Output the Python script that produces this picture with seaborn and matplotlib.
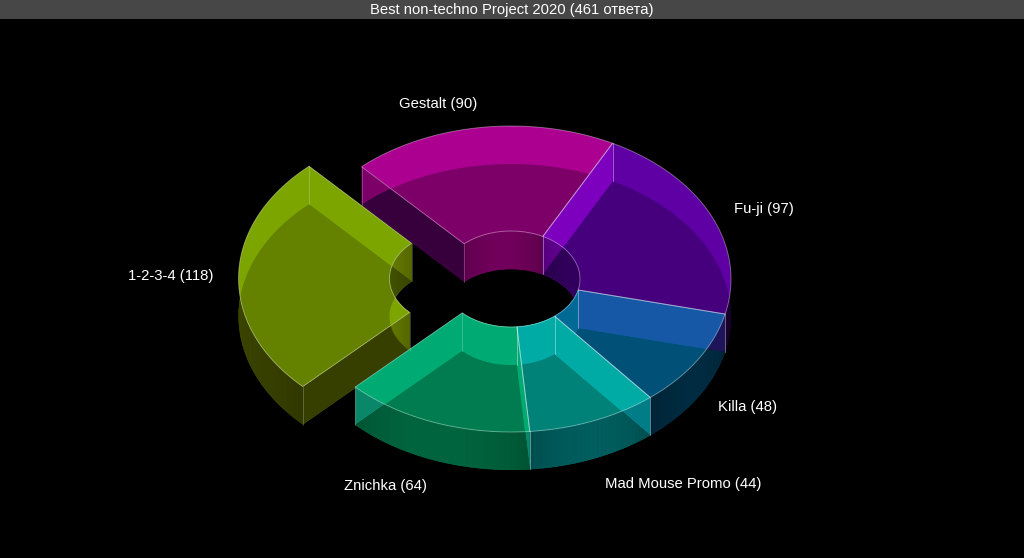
import numpy as np
import seaborn as sns
import matplotlib.pyplot as plt
from matplotlib.colors import to_rgb

# counter-clockwise from the Gestalt/Fu-ji joint
names = ['Gestalt', '1-2-3-4', 'Znichka', 'Mad Mouse Promo', 'Killa', 'Fu-ji']
votes = [90, 118, 64, 44, 48, 97]

title = 'Best non-techno Project 2020 (461 ответа)'

top_colors = ['#ac0091', '#7da500', '#00aa73', '#00aaa5', '#006996', '#5f00a5']
over_colors = ['#7d0069', '#648200', '#007d50', '#008278', '#005078', '#46007d']
band_colors = ['#ac0091', '#7da500', '#00aa73', '#00aaa5', '#1658a5', '#7d00be']
end_colors = ['#7d0069', '#5f7300', '#0a8769', '#007d87', '#1e145a', '#640090']
inner_colors = ['#690055', '#5f7300', '#00aa73', '#00aaa5', '#006996', '#5f008c']
inner_deep = ['#690055', '#3c4b00', '#00aa73', '#00aaa5', '#006996', '#2d0055']
front_colors = ['#37003c', '#373f00', '#005e3a', '#005757', '#00283c', '#19002d']
deep_colors = ['#37003c', '#373f00', '#005e3a', '#005757', '#00283c', '#19002d']

exploded = '1-2-3-4'
start_angle = 62.5
paint_order = ['Gestalt', '1-2-3-4', 'Fu-ji', 'Killa', 'Mad Mouse Promo', 'Znichka']

cx, cy = 511, 279
rx, ry = 220, 153
hole_rx, hole_ry = 69, 48
depth = 38
shift = (-52.5, -0.5)

sns.set_theme(style='dark', rc={'figure.facecolor': 'black', 'axes.facecolor': 'black',
                                'savefig.facecolor': 'black'})
plt.rcParams['font.family'] = ['Liberation Sans', 'DejaVu Sans']

fig = plt.figure(figsize=(10.24, 5.58), dpi=100)
ax = fig.add_axes([0, 0, 1, 1])
ax.set_xlim(0, 1024)
ax.set_ylim(558, 0)
ax.axis('off')


def arc(a0, a1, x0, y0, ax_r, ay_r, dy=0):
    t = np.radians(np.linspace(a0, a1, 91))
    return np.column_stack([x0 + ax_r * np.cos(t), y0 - ay_r * np.sin(t) + dy])


def poly(pts, color, clip=None, z=1):
    p = ax.fill(pts[:, 0], pts[:, 1], color=color, lw=0, zorder=z)[0]
    if clip is not None:
        p.set_clip_path(clip)
    return p


def hidden(pts):
    return ax.fill(pts[:, 0], pts[:, 1], color='none', lw=0)[0]


def shaded_wall(upper, lower, color, clip=None):
    # wall is split in strips, a bit lighter in its middle
    base = np.array(to_rgb(color))
    n = len(upper) - 1
    for j in range(0, n, 3):
        f = 0.9 + 0.18 * np.sin(np.pi * (j + 1.5) / n)
        quad = np.vstack([upper[j:j + 4], lower[j:j + 4][::-1]])
        p = ax.fill(quad[:, 0], quad[:, 1], color=np.clip(base * f, 0, 1), lw=0.4, zorder=1)[0]
        if clip is not None:
            p.set_clip_path(clip)


ends = start_angle + np.cumsum(votes) / np.sum(votes) * 360
starts = ends - np.array(votes) / np.sum(votes) * 360
slices = []
for i, name in enumerate(names):
    x0 = cx + (shift[0] if name == exploded else 0)
    y0 = cy + (shift[1] if name == exploded else 0)
    slices.append((i, name, starts[i], ends[i], x0, y0))
slices.sort(key=lambda s: paint_order.index(s[1]))

# under layers, back to front
for i, name, a0, a1, x0, y0 in slices:
    out_t = arc(a0, a1, x0, y0, rx, ry)
    in_t = arc(a0, a1, x0, y0, hole_rx, hole_ry)
    out_b = arc(a0, a1, x0, y0, rx, ry, depth)
    in_b = arc(a0, a1, x0, y0, hole_rx, hole_ry, depth)
    bottom = np.vstack([out_b, in_b[::-1]])
    bottom_clip = hidden(bottom)
    for k in (0, -1):
        wall = np.array([in_t[k], out_t[k], out_b[k], in_b[k]])
        poly(wall, end_colors[i])
    poly(bottom, deep_colors[i])
    shaded_wall(out_t, out_b, front_colors[i], bottom_clip)
    shaded_wall(in_t, in_b, inner_colors[i])
    shaded_wall(in_t, in_b, inner_deep[i], bottom_clip)

# top faces
for i, name, a0, a1, x0, y0 in slices:
    out_t = arc(a0, a1, x0, y0, rx, ry)
    in_t = arc(a0, a1, x0, y0, hole_rx, hole_ry)
    out_b = arc(a0, a1, x0, y0, rx, ry, depth)
    in_b = arc(a0, a1, x0, y0, hole_rx, hole_ry, depth)
    top = np.vstack([out_t, in_t[::-1]])
    top_patch = poly(top, top_colors[i], z=2)
    poly(np.vstack([out_b, in_b[::-1]]), over_colors[i], top_patch, z=2)
    wall = np.array([in_t[-1], out_t[-1], out_b[-1], in_b[-1]])
    poly(wall, band_colors[i], top_patch, z=2)

# edges
for i, name, a0, a1, x0, y0 in slices:
    out_t = arc(a0, a1, x0, y0, rx, ry)
    in_t = arc(a0, a1, x0, y0, hole_rx, hole_ry)
    ring = np.vstack([out_t, in_t[::-1], out_t[:1]])
    ax.plot(ring[:, 0], ring[:, 1], color='white', alpha=0.36, lw=0.7, zorder=4)
    for pt in (out_t[0], out_t[-1], in_t[0], in_t[-1]):
        ax.plot([pt[0], pt[0]], [pt[1], pt[1] + depth], color='white', alpha=0.22,
                lw=0.7, zorder=3)

# labels
label_xy = {'Gestalt': (438, 104), 'Fu-ji': (764, 209), 'Killa': (748, 407),
            'Mad Mouse Promo': (683, 484), 'Znichka': (385, 486), '1-2-3-4': (171, 276)}
for name, v in zip(names, votes):
    x, y = label_xy[name]
    ax.text(x, y, f'{name} ({v})', color='white', fontsize=10.7, ha='center', va='center',
            zorder=5)

ax.axhspan(0, 19, color='#474747', lw=0, zorder=5)
ax.text(512, 10, title, color='white', fontsize=10.6, ha='center', va='center', zorder=6)

fig.savefig('out.png', dpi=100)
